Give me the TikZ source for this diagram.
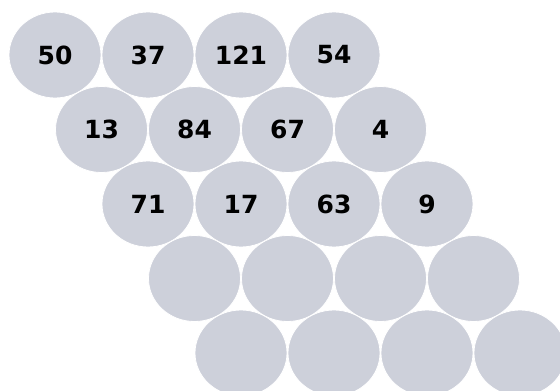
\documentclass[tikz,border=0pt]{standalone}
\usepackage{fontspec}
\setmainfont{DejaVu Sans}
\usetikzlibrary{shapes.geometric}
\definecolor{disc}{RGB}{205,208,218}
\tikzset{
  cell/.style={ellipse, fill=disc, draw=white, line width=0.8pt,
    minimum width=92pt, minimum height=86pt, inner sep=0pt,
    font=\bfseries\fontsize{25}{25}\selectfont, text=black}
}
\begin{document}
\begin{tikzpicture}[x=1pt,y=-1pt]
\useasboundingbox (0,0) rectangle (560,391);
\foreach \r/\labels in {0/{50,37,121,54},1/{13,84,67,4},2/{71,17,63,9},3/{,,,},4/{,,,}}{
  \foreach \t [count=\c from 0] in \labels {
    \node[cell] (n\r\c) at ({55+46.5*\r+93*\c},{55+74.5*\r}) {\t};
  }
}
\end{tikzpicture}
\end{document}
